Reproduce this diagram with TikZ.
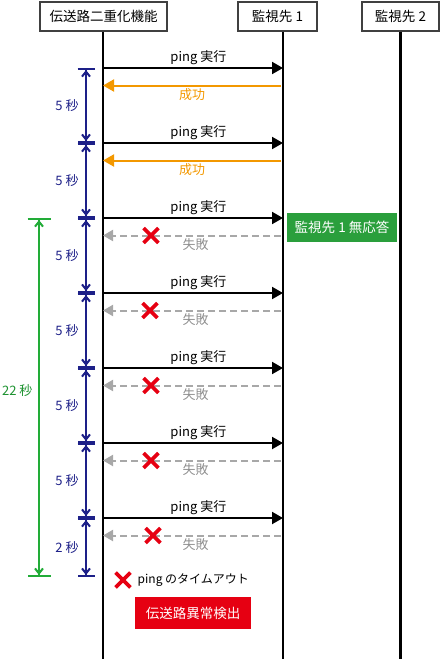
\documentclass[tikz,border=0pt]{standalone}
\usepackage{fontspec}
\setmainfont{Noto Sans CJK JP}
\usetikzlibrary{arrows.meta, shapes.misc}

\definecolor{okorange}{HTML}{F39800}
\definecolor{lostgray}{HTML}{A8A8A8}
\definecolor{dimblue}{HTML}{1D2088}
\definecolor{sumgreen}{HTML}{22AC38}
\definecolor{boxgreen}{HTML}{2A9F3C}
\definecolor{alertred}{HTML}{E60012}

\begin{document}
\begin{tikzpicture}[x=1pt, y=-1pt,
  % Node styles
  actor/.style={draw=black!75, line width=1.2pt, fill=white, minimum height=29pt, inner xsep=6pt, font=\fontsize{13.5}{15}\selectfont},
  alert/.style={text=white, inner sep=0pt, font=\fontsize{13.5}{15}\selectfont},
  cross/.style={cross out, draw=alertred, line width=3.8pt, minimum size=11pt, inner sep=0pt},
  % Edge styles
  lifeline/.style={line width=2.3pt},
  request/.style={-{Triangle[length=11pt, width=12pt]}, line width=2pt},
  success/.style={-{Triangle[length=11pt, width=12pt]}, line width=2pt, okorange},
  failure/.style={-{Triangle[length=10pt, width=11pt]}, line width=2pt, lostgray, dash pattern=on 7pt off 4pt},
  span/.style={dimblue, line width=2pt, {Bar[width=17pt]Straight Barb[length=5pt, width=8pt]}-{Straight Barb[length=5pt, width=8pt]Bar[width=17pt]}},
  total/.style={sumgreen, line width=2pt, {Bar[width=23pt]Straight Barb[length=5pt, width=8pt]}-{Straight Barb[length=5pt, width=8pt]Bar[width=23pt]}},
  % Label style
  lbl/.style={font=\fontsize{13}{15}\selectfont, inner sep=2.5pt},
]
\useasboundingbox (0,0) rectangle (442,659);

% === HEADERS ===
\node[actor, minimum width=127pt] (dup)  at (103.5,16.5) {伝送路二重化機能};
\node[actor, minimum width=79pt]  (mon1) at (277.5,16.5) {監視先 1};
\node[actor, minimum width=77pt]  (mon2) at (400.5,16.5) {監視先 2};

% === LIFELINES ===
\coordinate (Ldup)  at (103,659);
\coordinate (Lmon1) at (283,659);
\coordinate (Lmon2) at (400.5,659);
\draw[lifeline] (dup.south -| Ldup)   -- (Ldup);
\draw[lifeline] (mon1.south -| Lmon1) -- (Lmon1);
\draw[lifeline] (mon2.south -| Lmon2) -- (Lmon2);

% === MESSAGE LEVELS ===
\coordinate (p1) at (103,68);  \coordinate (q1) at (283,68);
\coordinate (p2) at (103,143); \coordinate (q2) at (283,143);
\coordinate (p3) at (103,218); \coordinate (q3) at (283,218);
\coordinate (p4) at (103,293); \coordinate (q4) at (283,293);
\coordinate (p5) at (103,368); \coordinate (q5) at (283,368);
\coordinate (p6) at (103,443); \coordinate (q6) at (283,443);
\coordinate (p7) at (103,518); \coordinate (q7) at (283,518);

\coordinate (r1) at (281,85.5);  \coordinate (s1) at (103,85.5);
\coordinate (r2) at (281,160.5); \coordinate (s2) at (103,160.5);
\coordinate (r3) at (281,235.5); \coordinate (s3) at (103,235.5);
\coordinate (r4) at (281,310.5); \coordinate (s4) at (103,310.5);
\coordinate (r5) at (281,385.5); \coordinate (s5) at (103,385.5);
\coordinate (r6) at (281,460.5); \coordinate (s6) at (103,460.5);
\coordinate (r7) at (281,535.5); \coordinate (s7) at (103,535.5);

% ============================================================
% 1. PING REQUESTS (black)
% ============================================================
\draw[request] (p1) -- (q1) node[lbl, pos=0.53, above] {ping 実行};
\draw[request] (p2) -- (q2) node[lbl, pos=0.53, above] {ping 実行};
\draw[request] (p3) -- (q3) node[lbl, pos=0.53, above] {ping 実行};
\draw[request] (p4) -- (q4) node[lbl, pos=0.53, above] {ping 実行};
\draw[request] (p5) -- (q5) node[lbl, pos=0.53, above] {ping 実行};
\draw[request] (p6) -- (q6) node[lbl, pos=0.53, above] {ping 実行};
\draw[request] (p7) -- (q7) node[lbl, pos=0.53, above] {ping 実行};

% ============================================================
% 2. REPLIES (orange = success, gray dashed = lost)
% ============================================================
\draw[success] (r1) -- (s1) node[lbl, text=okorange, midway, below] {成功};
\draw[success] (r2) -- (s2) node[lbl, text=okorange, midway, below] {成功};
\draw[failure] (r3) -- (s3) node[lbl, text=lostgray!85!black, pos=0.48, below] {失敗};
\draw[failure] (r4) -- (s4) node[lbl, text=lostgray!85!black, pos=0.48, below] {失敗};
\draw[failure] (r5) -- (s5) node[lbl, text=lostgray!85!black, pos=0.48, below] {失敗};
\draw[failure] (r6) -- (s6) node[lbl, text=lostgray!85!black, pos=0.48, below] {失敗};
\draw[failure] (r7) -- (s7) node[lbl, text=lostgray!85!black, pos=0.48, below] {失敗};

% timeout marks
\node[cross] (x3) at (151,235.5) {};
\node[cross] (x4) at (150,310.5) {};
\node[cross] (x5) at (151,385.5) {};
\node[cross] (x6) at (151,460.5) {};
\node[cross] (x7) at (153,535.5) {};

% ============================================================
% 3. INTERVALS (blue) AND TOTAL (green)
% ============================================================
\coordinate (d0) at (86,68);  \coordinate (d1) at (86,143);
\coordinate (d2) at (86,218); \coordinate (d3) at (86,293);
\coordinate (d4) at (86,368); \coordinate (d5) at (86,443);
\coordinate (d6) at (86,518); \coordinate (d7) at (86,577);

\draw[span] (d0) -- (d1) node[lbl, text=dimblue, midway, left=4pt] {5 秒};
\draw[span] (d1) -- (d2) node[lbl, text=dimblue, midway, left=4pt] {5 秒};
\draw[span] (d2) -- (d3) node[lbl, text=dimblue, midway, left=4pt] {5 秒};
\draw[span] (d3) -- (d4) node[lbl, text=dimblue, midway, left=4pt] {5 秒};
\draw[span] (d4) -- (d5) node[lbl, text=dimblue, midway, left=4pt] {5 秒};
\draw[span] (d5) -- (d6) node[lbl, text=dimblue, midway, left=4pt] {5 秒};
\draw[span] (d6) -- (d7) node[lbl, text=dimblue, midway, left=4pt] {2 秒};

\coordinate (g0) at (39,218); \coordinate (g1) at (39,577);
\draw[total] (g0) -- (g1) node[lbl, text=sumgreen!85!black, pos=0.48, left=3pt] {22 秒};

% ============================================================
% STATUS BOXES AND LEGEND
% ============================================================
\node[alert, fill=boxgreen, minimum width=110pt, minimum height=29.5pt] (noresp) at (342,227.5) {監視先 1 無応答};
\node[cross] (key) at (123,580) {};
\node[lbl, anchor=west, font=\fontsize{12}{14}\selectfont] (keytxt) at (135,580) {ping のタイムアウト};
\node[alert, fill=alertred, minimum width=116pt, minimum height=32pt] (detect) at (193,613) {伝送路異常検出};

\end{tikzpicture}
\end{document}
